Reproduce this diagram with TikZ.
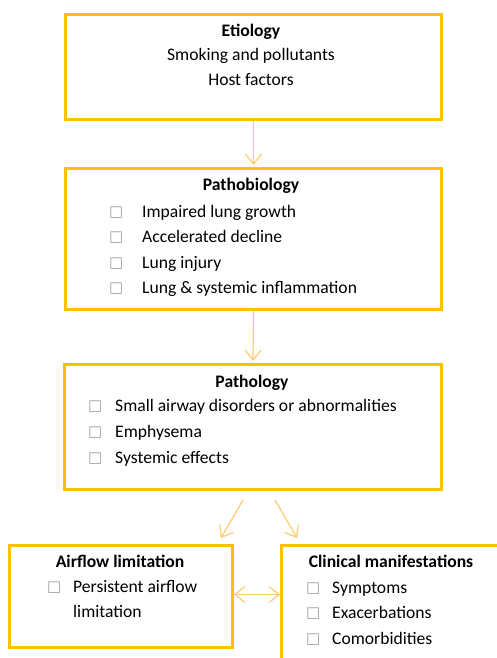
\documentclass[tikz,border=0pt]{standalone}
\usepackage{fontspec}
\setmainfont{Carlito}
\newfontfamily\symfont{DejaVu Sans}
\usetikzlibrary{arrows,arrows.meta,positioning}
\definecolor{boxgold}{RGB}{255,192,0}
\definecolor{arrowgold}{RGB}{255,202,110}
\newcommand{\chk}{{\symfont\color{gray!75}\fontsize{15}{15}\selectfont □}}
\newcommand{\itm}[2]{\makebox[#1][l]{\raisebox{0.5pt}{\chk}}#2}
\tikzset{barb/.tip={Straight Barb[length=10pt,width=16pt]}}

\begin{document}
\begin{tikzpicture}[x=1pt,y=-1pt]
\tikzstyle{frame}=[rectangle, draw=boxgold, line width=3pt, inner sep=0pt,
	anchor=north west
]
\tikzstyle{txt}=[inner sep=0pt, text height=12pt, text depth=4pt,
	font=\fontsize{17.6}{25}\selectfont
]
\tikzstyle{head}=[txt, font=\fontsize{17.6}{25}\selectfont\bfseries]
\tikzstyle{flow}=[draw=arrowgold, line width=1.2pt]
\useasboundingbox (0,0) rectangle (497,658);
% boxes
\node[frame, minimum width=376pt, minimum height=105pt] (etiology) at (64,13) {};
\node[frame, minimum width=376pt, minimum height=141pt] (pathobio) at (64,167) {};
\node[frame, minimum width=377pt, minimum height=125pt] (pathology) at (63,363) {};
\node[frame, minimum width=223pt, minimum height=102pt] (airflow) at (8,544) {};
\node[frame, minimum width=240pt, minimum height=150pt] (clinical) at (280,544) {};
% texts
\node[head] (etiologyT) at (251,33) {Etiology};
\node[txt] (smoking) at (251,57) {Smoking and pollutants};
\node[txt] (host) at (251,82) {Host factors};

\node[head] (pathobioT) at (251,186) {Pathobiology};
\node[txt, anchor=west] (growth) at (109,213) {\itm{33pt}{Impaired lung growth}};
\node[txt, anchor=west] (decline) at (109,238) {\itm{33pt}{Accelerated decline}};
\node[txt, anchor=west] (injury) at (109,264) {\itm{33pt}{Lung injury}};
\node[txt, anchor=west] (inflam) at (109,289) {\itm{33pt}{Lung \& systemic inflammation}};

\node[head] (pathologyT) at (252,383) {Pathology};
\node[txt, anchor=west] (smallair) at (88,407) {\itm{27pt}{Small airway disorders or abnormalities}};
\node[txt, anchor=west] (emphys) at (88,433) {\itm{27pt}{Emphysema}};
\node[txt, anchor=west] (systemic) at (88,459) {\itm{27pt}{Systemic effects}};

\node[head] (airflowT) at (120,563) {Airflow limitation};
\node[txt, anchor=north west, align=left, text height=, text depth=] (persist) at (47,580)
	{\itm{26pt}{Persistent airflow}\\\hspace*{26pt}limitation};

\node[head] (clinicalT) at (391,563) {Clinical manifestations};
\node[txt, anchor=west] (sympt) at (306,589) {\itm{26pt}{Symptoms}};
\node[txt, anchor=west] (exacer) at (306,614) {\itm{26pt}{Exacerbations}};
\node[txt, anchor=west] (comorb) at (306,640) {\itm{26pt}{Comorbidities}};
% arrows
\draw[flow,-barb] (etiology.south) -- ([yshift=2pt]pathobio.north);
\draw[flow,-barb] (pathobio.south) -- ([yshift=2pt]pathology.north);
\draw[flow,-barb] ([xshift=-10pt,yshift=-9pt]pathology.south) -- ([xshift=-13pt,yshift=6pt]airflow.north east);
\draw[flow,-barb] ([xshift=22pt,yshift=-9pt]pathology.south) -- ([xshift=17pt,yshift=6pt]clinical.north west);
\draw[flow,barb-barb] ([yshift=2pt]airflow.east) -- ([yshift=2pt]airflow.east -| clinical.west);

\end{tikzpicture}
\end{document}
